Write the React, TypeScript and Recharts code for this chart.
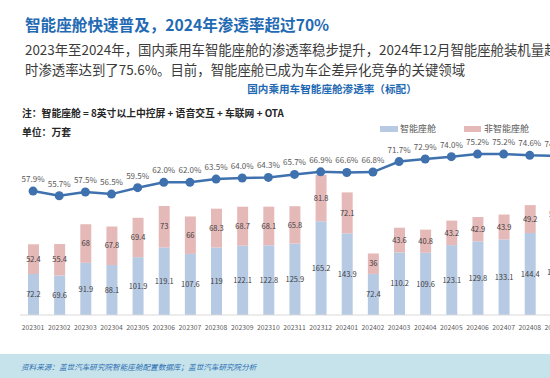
import React from 'react';
import { ComposedChart, Bar, Line, XAxis, YAxis, LabelList } from 'recharts';

const months = ['202301','202302','202303','202304','202305','202306','202307','202308','202309','202310','202311','202312','202401','202402','202403','202404','202405','202406','202407','202408','202409'];
const smartCabin = [72.2, 69.6, 91.9, 88.1, 101.9, 119.1, 107.6, 119, 122.1, 122.8, 125.9, 165.2, 143.9, 72.4, 110.2, 109.6, 123.1, 129.8, 133.1, 144.4, 150.6];
const nonSmartCabin = [52.4, 55.4, 68, 67.8, 69.4, 73, 66, 68.3, 68.7, 68.1, 65.8, 81.8, 72.1, 36, 43.6, 40.8, 43.2, 42.9, 43.9, 49.2, 52.1];
const penetration = [57.9, 55.7, 57.5, 56.5, 59.5, 62.0, 62.0, 63.5, 64.0, 64.3, 65.7, 66.9, 66.6, 66.8, 71.7, 72.9, 74.0, 75.2, 75.2, 74.6, 74.3];
const seriesNames = ['智能座舱', '非智能座舱'];

const data = months.map((m, i) => ({ month: m, smart: smartCabin[i], nonSmart: nonSmartCabin[i], rate: penetration[i] }));

const FONT = '"Noto Sans CJK SC", "Noto Sans", sans-serif';
const BLUE_BAR = '#b7cae4';
const PINK_BAR = '#e6b9b9';
const LINE = '#3f71ae';

export default function App() {
  return (
    <div style={{ position: 'fixed', left: 0, top: 0, width: 550, height: 378, overflow: 'hidden', background: '#fff', fontFamily: FONT }}>
      <div style={{ position: 'absolute', left: 25, top: 13, fontSize: 15.6, lineHeight: '22px', fontWeight: 700, color: '#1f6ab3', whiteSpace: 'nowrap' }}>
        智能座舱快速普及，2024年渗透率超过70%
      </div>
      <div style={{ position: 'absolute', left: 25, top: 39, fontSize: 13.4, lineHeight: '20px', color: '#3b3b3b', whiteSpace: 'nowrap' }}>
        2023年至2024年，国内乘用车智能座舱的渗透率稳步提升，2024年12月智能座舱装机量超过
      </div>
      <div style={{ position: 'absolute', left: 25, top: 59, fontSize: 13.4, lineHeight: '20px', color: '#3b3b3b', whiteSpace: 'nowrap' }}>
        时渗透率达到了75.6%。目前，智能座舱已成为车企差异化竞争的关键领域
      </div>
      <div style={{ position: 'absolute', left: 232, width: 200, top: 82, textAlign: 'center', fontSize: 10.6, lineHeight: '14px', fontWeight: 700, color: '#1f6ab3', whiteSpace: 'nowrap' }}>
        国内乘用车智能座舱渗透率（标配）
      </div>
      <div style={{ position: 'absolute', left: 22, top: 106, fontSize: 9.8, lineHeight: '14px', fontWeight: 700, color: '#262626', whiteSpace: 'nowrap' }}>
        注：智能座舱 = 8英寸以上中控屏 + 语音交互 + 车联网 + OTA
      </div>
      <div style={{ position: 'absolute', left: 22, top: 125, fontSize: 9.8, lineHeight: '14px', fontWeight: 700, color: '#262626', whiteSpace: 'nowrap' }}>
        单位：万套
      </div>
      <div style={{ position: 'absolute', left: 380, top: 123, display: 'flex', alignItems: 'center', fontSize: 9, color: '#595959', lineHeight: '12px', whiteSpace: 'nowrap' }}>
        <span style={{ display: 'inline-block', width: 18, height: 6, background: BLUE_BAR, marginRight: 2 }} />
        <span style={{ marginRight: 28 }}>{seriesNames[0]}</span>
        <span style={{ display: 'inline-block', width: 17, height: 6, background: PINK_BAR, marginRight: 3 }} />
        <span>{seriesNames[1]}</span>
      </div>
      <div style={{ position: 'absolute', left: 0, top: 0 }}>
        <ComposedChart width={569} height={335} data={data} margin={{ top: 101, right: 0, bottom: 0, left: 20 }}>
          <XAxis
            dataKey="month"
            interval={0}
            height={20}
            tickLine={false}
            axisLine={{ stroke: '#d9d9d9', strokeWidth: 1 }}
            tick={{ fontSize: 6.8, fill: '#595959', fontFamily: FONT }}
            tickMargin={4}
          />
          <YAxis yAxisId="bars" hide domain={[0, 377]} allowDataOverflow />
          <YAxis yAxisId="rate" hide orientation="right" domain={[0, 100]} allowDataOverflow />
          <Bar yAxisId="bars" dataKey="smart" name={seriesNames[0]} stackId="a" fill={BLUE_BAR} barSize={11} isAnimationActive={false}>
            <LabelList dataKey="smart" position="center" style={{ fontSize: 7.5, fill: '#404040', fontFamily: FONT }} />
          </Bar>
          <Bar yAxisId="bars" dataKey="nonSmart" name={seriesNames[1]} stackId="a" fill={PINK_BAR} barSize={11} isAnimationActive={false}>
            <LabelList dataKey="nonSmart" position="center" style={{ fontSize: 7.5, fill: '#404040', fontFamily: FONT }} />
          </Bar>
          <Line
            yAxisId="rate"
            dataKey="rate"
            type="linear"
            stroke={LINE}
            strokeWidth={2.5}
            dot={{ r: 4.5, fill: LINE, stroke: LINE, strokeWidth: 0 }}
            isAnimationActive={false}
          >
            <LabelList dataKey="rate" position="top" offset={9} formatter={(v: number) => `${v.toFixed(1)}%`} style={{ fontSize: 8, fill: '#595959', fontFamily: FONT }} />
          </Line>
        </ComposedChart>
      </div>
      <div style={{ position: 'absolute', left: 0, top: 354, width: 550, height: 24, background: '#c6e3eb' }} />
      <div style={{ position: 'absolute', left: 21, top: 361, fontSize: 7.6, lineHeight: '12px', fontStyle: 'italic', color: '#2e6fb2', whiteSpace: 'nowrap' }}>
        资料来源：盖世汽车研究院智能座舱配置数据库；盖世汽车研究院分析
      </div>
    </div>
  );
}
